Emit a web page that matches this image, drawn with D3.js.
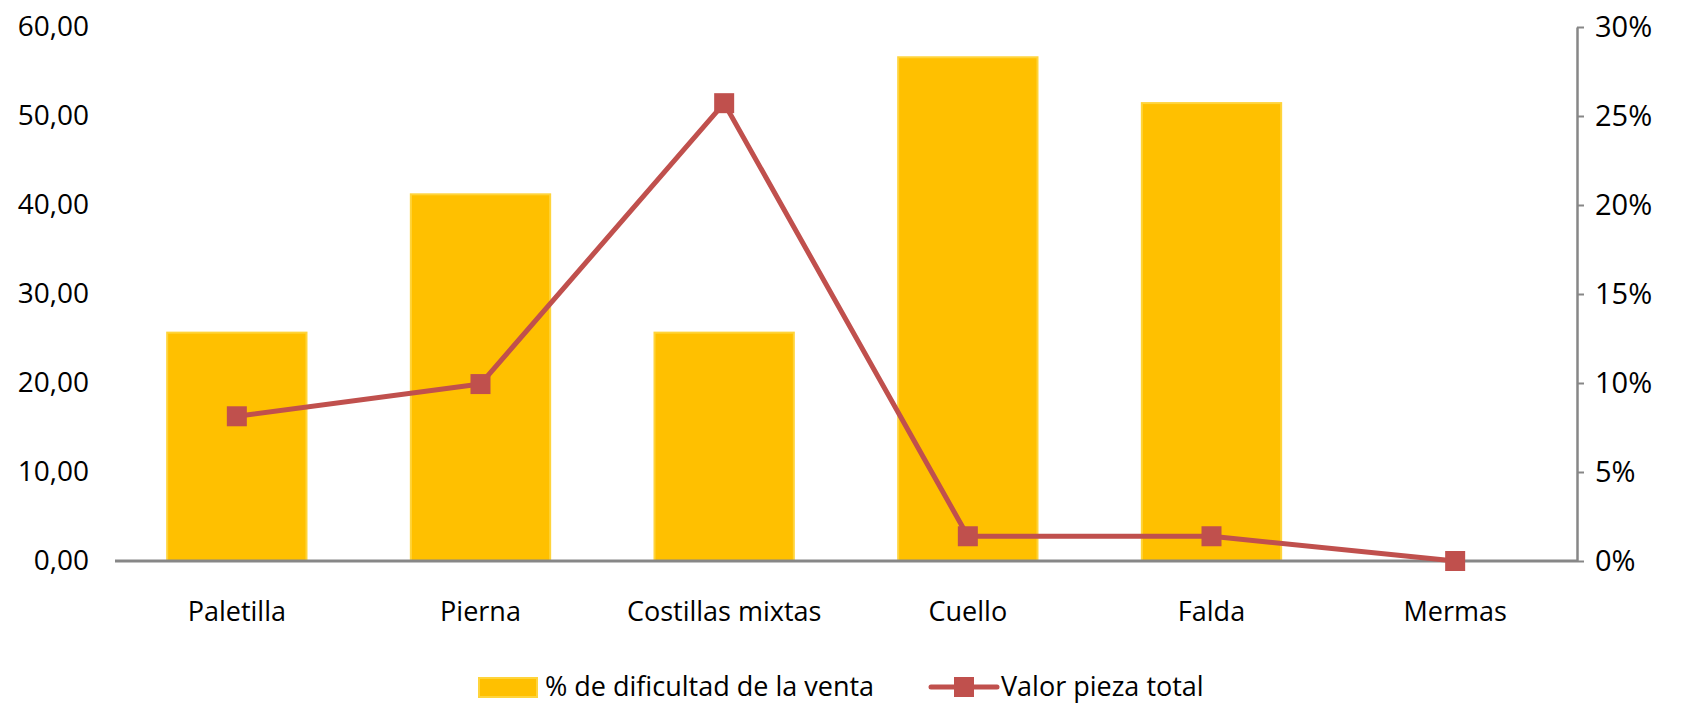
<!DOCTYPE html>
<html>
<head>
<meta charset="utf-8">
<style>
  body { margin: 0; background: #fff; }
  svg text { font-family: "Open Sans", sans-serif; fill: #000; }
</style>
</head>
<body>
<svg width="1681" height="706"></svg>
<script src="https://d3js.org/d3.v7.min.js"></script>
<script>

var categories = ["Paletilla", "Pierna", "Costillas mixtas", "Cuello", "Falda", "Mermas"];
var dificultad = [25.66, 41.2, 25.66, 56.6, 51.45, 0];
var valorPieza = [0.0813, 0.0994, 0.2572, 0.0139, 0.0139, 0];
var leftTicks = [0, 10, 20, 30, 40, 50, 60];
var rightTicks = [0, 0.05, 0.10, 0.15, 0.20, 0.25, 0.30];

var svg = d3.select("svg"),
  margin = {top: 27, right: 104, bottom: 145, left: 115},
  width = +svg.attr("width") - margin.left - margin.right,
  height = +svg.attr("height") - margin.top - margin.bottom,
  g = svg.append("g").attr("transform", "translate(" + margin.left + "," + margin.top + ")");

var locale = d3.formatLocale({decimal: ",", thousands: ".", grouping: [3], currency: ["", "€"]});
var fmtLeft = locale.format(".2f"),
  fmtRight = d3.format(".0%");

var x = d3.scaleBand().domain(categories).range([0, width]).paddingInner(0.42).paddingOuter(0.21),
  y = d3.scaleLinear().domain([0, 60]).range([height, 0]),
  y2 = d3.scaleLinear().domain([0, 0.30]).range([height, 0]);

var barColor = "#FFC000", barEdge = "#FFD43B", lineColor = "#C0504D", axisColor = "#878787";

// bars
g.selectAll(".bar")
  .data(dificultad)
  .enter().append("rect")
    .attr("class", "bar")
    .attr("x", function(d, i) { return x(categories[i]) + 1; })
    .attr("width", x.bandwidth() - 2)
    .attr("y", function(d) { return y(d); })
    .attr("height", function(d) { return y(0) - y(d); })
    .style("fill", barColor)
    .style("stroke", barEdge)
    .style("stroke-width", 2);

// left axis: labels only
g.append("g")
    .attr("class", "axis axis--y")
    .call(d3.axisLeft(y).tickValues(leftTicks).tickFormat(fmtLeft).tickSize(0).tickPadding(26))
    .call(function(a) { a.select(".domain").remove(); })
    .selectAll("text").style("font-size", "28px");

// right axis
var ra = g.append("g")
    .attr("class", "axis axis--y2")
    .attr("transform", "translate(" + width + ",0)")
    .call(d3.axisRight(y2).tickValues(rightTicks).tickFormat(fmtRight).tickSizeInner(7).tickSizeOuter(0).tickPadding(11));
ra.select(".domain").attr("stroke", axisColor).attr("stroke-width", 2.5);
ra.selectAll(".tick line").attr("stroke", axisColor).attr("stroke-width", 2);
ra.selectAll("text").style("font-size", "29px");

// baseline
g.append("line")
    .attr("x1", 0).attr("x2", width)
    .attr("y1", y(0)).attr("y2", y(0))
    .attr("stroke", axisColor).attr("stroke-width", 3);

// category labels
g.append("g")
    .attr("class", "axis axis--x")
    .attr("transform", "translate(0," + height + ")")
    .call(d3.axisBottom(x).tickSize(0).tickPadding(41))
    .call(function(a) { a.select(".domain").remove(); })
    .selectAll("text").style("font-size", "27px");

// line
var line = d3.line()
  .x(function(d, i) { return x(categories[i]) + x.bandwidth() / 2; })
  .y(function(d) { return y2(d); });

g.append("path")
    .datum(valorPieza)
    .attr("fill", "none")
    .attr("stroke", lineColor)
    .attr("stroke-width", 5)
    .attr("stroke-linejoin", "round")
    .attr("d", line);

var ms = 20;
g.selectAll(".marker")
  .data(valorPieza)
  .enter().append("rect")
    .attr("class", "marker")
    .attr("x", function(d, i) { return x(categories[i]) + x.bandwidth() / 2 - ms / 2; })
    .attr("y", function(d) { return y2(d) - ms / 2; })
    .attr("width", ms).attr("height", ms)
    .style("fill", lineColor);

// legend
var ly = 687;
var lg = svg.append("g").attr("class", "legend");
lg.append("rect").attr("x", 479).attr("y", ly - 9).attr("width", 58).attr("height", 19)
  .style("fill", barColor).style("stroke", barEdge).style("stroke-width", 2);
lg.append("text").attr("x", 545).attr("y", ly).attr("dy", "0.35em")
  .style("font-size", "27px").text("% de dificultad de la venta");
lg.append("line").attr("x1", 931).attr("x2", 997).attr("y1", ly).attr("y2", ly)
  .attr("stroke", lineColor).attr("stroke-width", 5).attr("stroke-linecap", "round");
lg.append("rect").attr("x", 954).attr("y", ly - 10).attr("width", 20).attr("height", 20).style("fill", lineColor);
lg.append("text").attr("x", 1001).attr("y", ly).attr("dy", "0.35em")
  .style("font-size", "27px").text("Valor pieza total");

</script>
</body>
</html>
